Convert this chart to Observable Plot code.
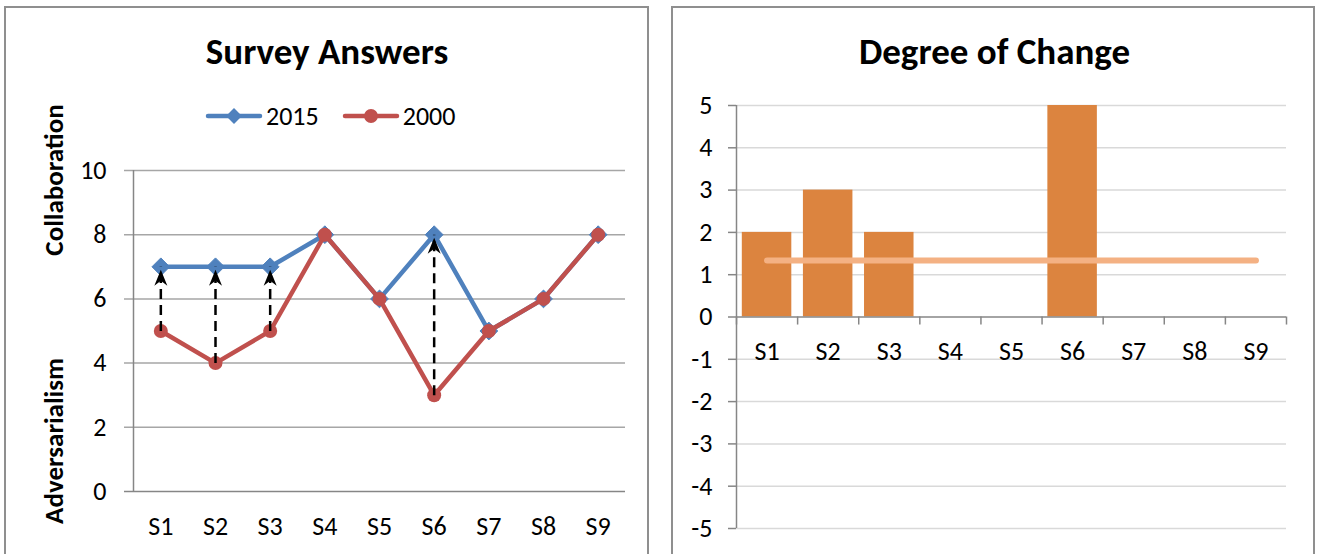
<!DOCTYPE html>
<html>
<head>
<meta charset="utf-8">
<script src="https://cdn.jsdelivr.net/npm/d3@7"></script>
<script src="https://cdn.jsdelivr.net/npm/@observablehq/plot@0.6"></script>
<style>
  html, body { margin: 0; padding: 0; background: #fff; }
  body { width: 1319px; height: 554px; position: relative; overflow: hidden; font-family: Carlito, Lato, "Open Sans", sans-serif; color: #000; }
  .panel { position: absolute; top: 6px; height: 560px; border: 2px solid #8f8f8f; box-sizing: border-box; }
  .chart { position: absolute; top: 0; z-index: 2; }
  .title { position: absolute; top: 30px; font-weight: bold; font-size: 37px; line-height: 44px; text-align: center; z-index: 3; }
  .ytitle { position: absolute; font-weight: bold; font-size: 27px; white-space: nowrap; transform: translate(-50%, -50%) rotate(-90deg); z-index: 3; }
  .legend { position: absolute; top: 100px; left: 205px; display: flex; align-items: center; font-size: 26px; line-height: 32px; z-index: 3; }
  .legend .item { display: flex; align-items: center; margin-right: 23px; }
  .legend svg { display: block; margin-right: 3px; }
</style>
</head>
<body>
<div class="panel" style="left:4px;width:645px;"></div>
<div class="panel" style="left:671px;width:644px;"></div>
<div class="title" style="left:0;width:654px;">Survey Answers</div>
<div class="title" style="left:672px;width:645px;">Degree of Change</div>
<div class="ytitle" style="left:53px;top:180px;">Collaboration</div>
<div class="ytitle" style="left:53px;top:441px;">Adversarialism</div>
<div class="legend" id="legend"></div>
<div class="chart" id="left" style="left:0;"></div>
<div class="chart" id="right" style="left:660px;"></div>
<script>
// ---- data ----
const categories = ["S1", "S2", "S3", "S4", "S5", "S6", "S7", "S8", "S9"];
const answers2015 = [7, 7, 7, 8, 6, 8, 5, 6, 8];
const answers2000 = [5, 4, 5, 8, 6, 3, 5, 6, 8];
const degreeOfChange = [2, 3, 2, 0, 0, 5, 0, 0, 0];
const leftTicks = [0, 2, 4, 6, 8, 10];
const rightTicks = [-5, -4, -3, -2, -1, 0, 1, 2, 3, 4, 5];
const seriesNames = ["2015", "2000"];

const BLUE = "#4f81bd", RED = "#c0504d", ORANGE = "#dc843f", AVG = "#f4b183";
const FONT = "Carlito, Lato, 'Open Sans', sans-serif";

const rows = categories.map((c, i) => ({ c, i, a: answers2015[i], b: answers2000[i], d: degreeOfChange[i] }));
const changed = rows.filter(r => r.a !== r.b);
const meanChange = d3.mean(degreeOfChange);

// stealth arrowhead, tip slightly below the point it marks
const stealth = {
  draw(ctx, size) {
    ctx.moveTo(0, 3);
    ctx.lineTo(-6.5, 19);
    ctx.lineTo(0, 14);
    ctx.lineTo(6.5, 19);
    ctx.closePath();
  }
};

// ---- left chart ----
const left = Plot.plot({
  width: 660, height: 554,
  marginLeft: 133, marginRight: 35, marginTop: 170, marginBottom: 63,
  style: { fontFamily: FONT, fontSize: "26px", background: "transparent", overflow: "visible" },
  x: { domain: [0, categories.length], axis: null },
  y: { domain: [0, 10], axis: null },
  marks: [
    Plot.ruleY(leftTicks.filter(t => t > 0), { y: d => d, stroke: "#a6a6a6", strokeWidth: 1.5, insetLeft: -9 }),
    Plot.ruleY([0], { stroke: "#868686", strokeWidth: 1.5, insetLeft: -9 }),
    Plot.ruleX([0], { y1: 0, y2: 10, stroke: "#868686", strokeWidth: 1.5 }),
    Plot.text(leftTicks, { x: 0, y: d => d, text: d => String(d), textAnchor: "end", dx: -27, fontSize: 26 }),
    Plot.text(rows, { x: d => d.i + 0.5, y: 0, text: "c", dy: 35, fontSize: 26 }),
    Plot.line(rows, { x: d => d.i + 0.5, y: "a", stroke: BLUE, strokeWidth: 4.5 }),
    Plot.dot(rows, { x: d => d.i + 0.5, y: "a", symbol: "diamond2", r: 8, fill: BLUE, stroke: BLUE, strokeWidth: 1 }),
    Plot.line(rows, { x: d => d.i + 0.5, y: "b", stroke: RED, strokeWidth: 4.5 }),
    Plot.dot(rows, { x: d => d.i + 0.5, y: "b", r: 7, fill: RED }),
    Plot.link(changed, { x1: d => d.i + 0.5, x2: d => d.i + 0.5, y1: "b", y2: "a", stroke: "#000", strokeWidth: 2.5, strokeDasharray: "10,6", insetEnd: 16 }),
    Plot.dot(changed, { x: d => d.i + 0.5, y: "a", symbol: stealth, r: 1, fill: "#000", stroke: "none" })
  ]
});
document.getElementById("left").appendChild(left);

// ---- right chart ----
const right = Plot.plot({
  width: 659, height: 554,
  marginLeft: 76, marginRight: 33, marginTop: 105, marginBottom: 26,
  style: { fontFamily: FONT, fontSize: "26px", background: "transparent", overflow: "visible" },
  x: { domain: [0, categories.length], axis: null },
  y: { domain: [-5, 5], axis: null },
  marks: [
    Plot.ruleY(rightTicks.filter(t => t !== 0), { y: d => d, stroke: "#d9d9d9", strokeWidth: 1.5 }),
    Plot.ruleY(rightTicks.filter(t => t !== 0), { y: d => d, x1: 0, x2: 0, stroke: "#868686", strokeWidth: 1.5, insetLeft: -8 }),
    Plot.rectY(rows, { x1: d => d.i + 0.095, x2: d => d.i + 0.905, y1: 0, y2: "d", fill: ORANGE }),
    Plot.ruleY([0], { stroke: "#868686", strokeWidth: 1.5, insetLeft: -8 }),
    Plot.ruleX(d3.range(categories.length + 1), { x: d => d, y1: 0, y2: -0.19, stroke: "#868686", strokeWidth: 1.5 }),
    Plot.ruleX([0], { y1: -5, y2: 5, stroke: "#868686", strokeWidth: 1.5 }),
    Plot.text(rightTicks, { x: 0, y: d => d, text: d => String(d), textAnchor: "end", dx: -24, fontSize: 26 }),
    Plot.text(rows, { x: d => d.i + 0.5, y: 0, text: "c", dy: 35, fontSize: 26 }),
    Plot.line(rows, { x: d => d.i + 0.5, y: () => meanChange, stroke: AVG, strokeWidth: 6, strokeLinecap: "round" })
  ]
});
document.getElementById("right").appendChild(right);

// ---- legend ----
const legend = document.getElementById("legend");
const symbols = [
  { name: seriesNames[0], color: BLUE, sym: d3.symbolDiamond2, size: 160 },
  { name: seriesNames[1], color: RED, sym: d3.symbolCircle, size: 150 }
];
for (const s of symbols) {
  const item = document.createElement("div");
  item.className = "item";
  const svg = d3.create("svg").attr("width", 58).attr("height", 20);
  svg.append("line").attr("x1", 3).attr("x2", 55).attr("y1", 10).attr("y2", 10)
    .attr("stroke", s.color).attr("stroke-width", 4.5).attr("stroke-linecap", "round");
  svg.append("path").attr("d", d3.symbol(s.sym, s.size)()).attr("transform", "translate(29,10)").attr("fill", s.color);
  item.appendChild(svg.node());
  const t = document.createElement("span");
  t.textContent = s.name;
  item.appendChild(t);
  legend.appendChild(item);
}
</script>
</body>
</html>
